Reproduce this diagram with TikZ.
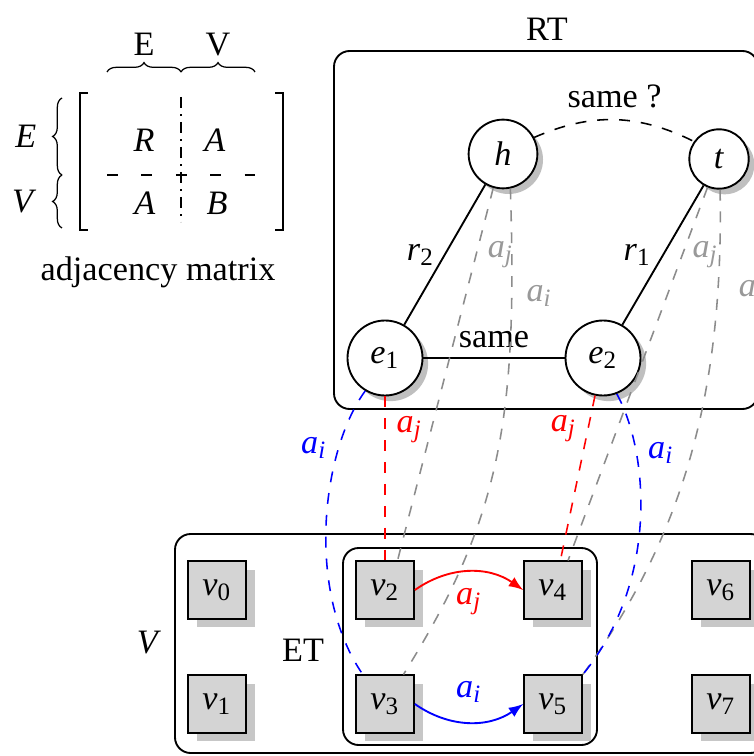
\documentclass[tikz,border=0pt,11pt]{standalone}
\usepackage{fontspec}
\setmainfont{Liberation Serif}
\usetikzlibrary{shadows,decorations.pathreplacing}
\newcommand{\sv}[2]{\textit{#1}\textsubscript{#2}}
\begin{document}
\begin{tikzpicture}
	[x=0.32pt,y=-0.32pt,>=latex,
	ent/.style={circle,draw,fill=white,line width=0.6pt,minimum size=22pt,inner sep=1pt,drop shadow={shadow xshift=1.8pt,shadow yshift=-1.8pt,fill=black!25,opacity=1}},
	vert/.style={rectangle,draw,fill=black!17,line width=0.6pt,minimum width=18.5pt,minimum height=18.3pt,inner sep=1pt,drop shadow={shadow xshift=2.8pt,shadow yshift=-2.8pt,fill=black!22,opacity=1}},
	box/.style={draw,rounded corners=5pt,line width=0.6pt},
	lbl/.style={inner sep=1pt},
	link/.style={dash pattern=on 3.5pt off 3.5pt,line width=0.5pt},
	gr/.style={link,black!45},
	glbl/.style={lbl,text=black!40}]
\clip (0,0) rectangle (754,756);
\useasboundingbox (0,0) rectangle (754,756);
% matrix
\draw[line width=0.7pt] (88,93) -- (80,93) -- (80,230) -- (88,230);
\draw[line width=0.7pt] (275,93) -- (283,93) -- (283,230) -- (275,230);
\draw[line width=0.4pt,dash pattern=on 3.5pt off 2pt on 0.5pt off 2pt] (181,97) -- (181,222);
\draw[line width=0.4pt,dash pattern=on 3.5pt off 7.5pt] (107,175) -- (255,175);
\node (mR) at (144,140) {\textit{R}};
\node (mA1) at (215,140) {\textit{A}};
\node (mA2) at (145,203) {\textit{A}};
\node (mB) at (217,203) {\textit{B}};
\draw[decorate,decoration={brace,amplitude=3pt}] (107,72) -- node[lbl,above=4pt] (colE) {E} (181,72);
\draw[decorate,decoration={brace,amplitude=3pt}] (181,72) -- node[lbl,above=4pt] (colV) {V} (255,72);
\draw[decorate,decoration={brace,amplitude=3pt}] (62,175) -- node[lbl,left=7pt] (rowE) {\textit{E}} (62,98);
\draw[decorate,decoration={brace,amplitude=3pt}] (62,228) -- node[lbl,left=7pt] (rowV) {\textit{V}} (62,175);
\node (adj) at (158,272) {adjacency matrix};
% boxes
\draw[box] (334,51) rectangle (758,409);
\draw[box] (175,534) rectangle (766,753);
\draw[box] (343,548) rectangle (597,745);
\node (rt) at (547,29) {RT};
\node (vl) at (149,643) {\textit{V}};
\node (et) at (303,650) {ET};
% entities
\node[ent] (h) at (503,154) {\textit{h}};
\node[ent,minimum size=19pt] (t) at (719,159) {\textit{t}};
\node[ent,minimum size=24pt] (e1) at (385,358) {\sv{e}{1}};
\node[ent,minimum size=24pt] (e2) at (603,358) {\sv{e}{2}};
% vertices
\node[vert] (v0) at (217,590) {\sv{v}{0}};
\node[vert] (v1) at (217,704) {\sv{v}{1}};
\node[vert] (v2) at (385,590) {\sv{v}{2}};
\node[vert] (v3) at (385,704) {\sv{v}{3}};
\node[vert] (v4) at (553,590) {\sv{v}{4}};
\node[vert] (v5) at (553,704) {\sv{v}{5}};
\node[vert] (v6) at (721,590) {\sv{v}{6}};
\node[vert] (v7) at (721,704) {\sv{v}{7}};
% relations
\draw[line width=0.6pt] (h) -- node[lbl,left=2pt]{\sv{r}{2}} (e1);
\draw[line width=0.6pt] (t) -- node[lbl,left=2.5pt]{\sv{r}{1}} (e2);
\draw[line width=0.6pt] (e1) -- node[lbl,above=2pt]{same} (e2);
\draw[link,black] (h.28) to[bend left=25] node[lbl,above=2.5pt]{same ?} (t.145);
% alignments
\draw[gr] (h.-106) -- node[glbl,pos=0.18,right=2.5pt]{\sv{a}{\textit{j}}} (v2.67);
\draw[gr] (h.-78) .. controls (518,420) and (500,520) .. node[glbl,pos=0.17,right=3.5pt]{\sv{a}{\textit{i}}} (v3.58);
\draw[gr] (t.-112) -- node[glbl,pos=0.18,right=2pt]{\sv{a}{\textit{j}}} (v4.63);
\draw[gr] (t.-88) .. controls (724,400) and (680,540) .. node[glbl,pos=0.17,right=5.5pt]{\sv{a}{\textit{i}}} (v5.north east);
\draw[link,red] (e1.south) -- node[lbl,pos=0.2,right=2.5pt,text=red]{\sv{a}{\textit{j}}} (v2.north);
\draw[link,red] (e2.-102) -- node[lbl,pos=0.2,left=2.5pt,text=red]{\sv{a}{\textit{j}}} (v4.76);
\draw[link,blue] (e1.-121) .. controls (322,450) and (305,590) .. node[lbl,pos=0.25,left=2.5pt,text=blue]{\sv{a}{\textit{i}}} (v3.127);
\draw[link,blue] (e2.-69) .. controls (648,450) and (660,580) .. node[lbl,pos=0.27,right=2.5pt,text=blue]{\sv{a}{\textit{i}}} (v5.north east);
% edges
\draw[->,red,line width=0.6pt] (v2.east) to[bend left=35] node[lbl,below=4pt]{\sv{a}{\textit{j}}} (v4.west);
\draw[->,blue,line width=0.6pt] (v3.east) to[bend right=35] node[lbl,above=5pt]{\sv{a}{\textit{i}}} (v5.west);
\end{tikzpicture}
\end{document}
